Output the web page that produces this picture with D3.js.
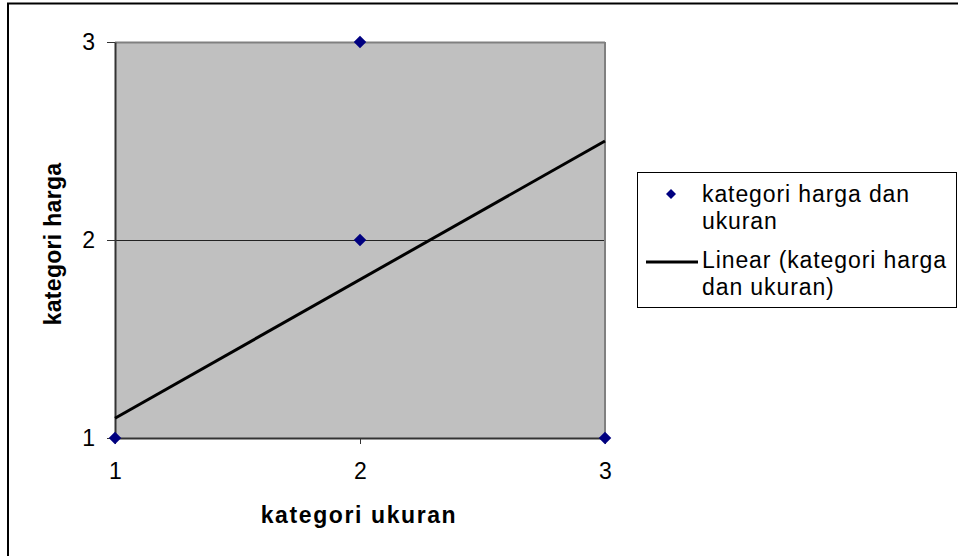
<!DOCTYPE html>
<html>
<head>
<meta charset="utf-8">
<script src="https://cdn.jsdelivr.net/npm/d3@7"></script>
<style>
  body { margin: 0; background: #fff; }
  text { font-family: "Liberation Sans", Arial, sans-serif; }
</style>
</head>
<body>
<svg width="958" height="556"></svg>
<script>
const svg = d3.select('svg')

// data
const ukuran = [1, 2, 2, 3]
const harga = [1, 3, 2, 1]
const trendX = [1, 3]
const trendY = [1.1, 2.5]
const xTicks = [1, 2, 3]
const yTicks = [1, 2, 3]
const legendLines = ['kategori harga dan', 'ukuran', 'Linear (kategori harga', 'dan ukuran)']

const points = ukuran.map((d, i) => ({x: d, y: harga[i]}))
const trend = trendX.map((d, i) => ({x: d, y: trendY[i]}))

const plot = {left: 115, top: 42, right: 605, bottom: 438}

const xScale = d3.scaleLinear().domain([1, 3]).range([plot.left, plot.right])
const yScale = d3.scaleLinear().domain([1, 3]).range([plot.bottom, plot.top])

// outer chart border (right/bottom are cut off in the picture)
svg.append('rect')
	.attr('x', 8).attr('y', 3.5)
	.attr('width', 1000).attr('height', 600)
	.attr('fill', 'none').attr('stroke', '#000').attr('stroke-width', 2)

// plot area
svg.append('rect')
	.attr('x', plot.left).attr('y', plot.top)
	.attr('width', plot.right - plot.left).attr('height', plot.bottom - plot.top)
	.attr('fill', '#c0c0c0')

// gridlines
svg.append('g').selectAll('line').data(yTicks.filter(d => d > 1))
	.enter().append('line')
	.attr('x1', plot.left).attr('x2', plot.right)
	.attr('y1', d => yScale(d) + 0.5).attr('y2', d => yScale(d) + 0.5)
	.attr('stroke', d => d === 3 ? '#808080' : '#222')
	.attr('stroke-width', d => d === 3 ? 2 : 1)

// right border of plot area
svg.append('line')
	.attr('x1', plot.right).attr('x2', plot.right)
	.attr('y1', plot.top).attr('y2', plot.bottom)
	.attr('stroke', '#808080').attr('stroke-width', 2)

const xAxis = d3.axisBottom(xScale).tickValues(xTicks).tickFormat(d3.format('d'))
	.tickSizeInner(6).tickSizeOuter(0).tickPadding(19)
const yAxis = d3.axisLeft(yScale).tickValues(yTicks).tickFormat(d3.format('d'))
	.tickSizeInner(8).tickSizeOuter(0).tickPadding(12)

const gx = svg.append('g')
	.attr('transform', `translate(0, ${plot.bottom})`)
	.call(xAxis)
const gy = svg.append('g')
	.attr('transform', `translate(${plot.left}, 0)`)
	.call(yAxis)

for (const g of [gx, gy]) {
	g.select('.domain').attr('stroke', '#333').attr('stroke-width', 2)
	g.selectAll('.tick line').attr('stroke', '#333')
	g.selectAll('.tick text').attr('font-size', 23).attr('fill', '#000')
		.attr('font-family', '"Liberation Sans", Arial, sans-serif')
}

// trend line
svg.append('path')
	.datum(trend)
	.attr('d', d3.line().x(d => xScale(d.x)).y(d => yScale(d.y)))
	.attr('fill', 'none').attr('stroke', '#000').attr('stroke-width', 3)

// markers
const diamond = d3.symbol().type(d3.symbolDiamond2).size(100)
svg.append('g').selectAll('path').data(points)
	.enter().append('path')
	.attr('d', diamond)
	.attr('transform', d => `translate(${xScale(d.x)}, ${yScale(d.y)})`)
	.attr('fill', '#000080')

// axis titles
svg.append('text')
	.attr('x', 359).attr('y', 523)
	.attr('text-anchor', 'middle')
	.attr('font-size', 23).attr('font-weight', 'bold')
	.attr('letter-spacing', 1.6)
	.text('kategori ukuran')

svg.append('text')
	.attr('transform', `translate(61, 244) rotate(-90)`)
	.attr('text-anchor', 'middle')
	.attr('font-size', 23).attr('font-weight', 'bold')
	.attr('letter-spacing', 0.3)
	.text('kategori harga')

// legend
const legend = svg.append('g')
legend.append('rect')
	.attr('x', 637.5).attr('y', 172.5).attr('width', 319).attr('height', 135)
	.attr('fill', '#fff').attr('stroke', '#000').attr('stroke-width', 1)

legend.append('path')
	.attr('d', d3.symbol().type(d3.symbolDiamond2).size(64))
	.attr('transform', 'translate(671, 194)')
	.attr('fill', '#000080')

legend.append('line')
	.attr('x1', 646).attr('x2', 698).attr('y1', 262).attr('y2', 262)
	.attr('stroke', '#000').attr('stroke-width', 3)

const legendY = [202, 229, 268, 295]
legend.selectAll('text.item').data(legendLines)
	.enter().append('text')
	.attr('class', 'item')
	.attr('x', 702).attr('y', (d, i) => legendY[i])
	.attr('font-size', 23)
	.attr('letter-spacing', 0.9)
	.text(d => d)
</script>
</body>
</html>
